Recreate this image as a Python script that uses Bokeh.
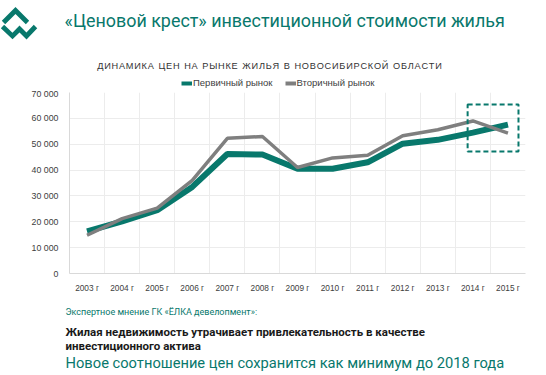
import numpy as np
from bokeh.plotting import figure
from bokeh.layouts import column
from bokeh.models import (BoxAnnotation, Legend, LegendItem, FixedTicker, Range1d,
                          ColumnDataSource)
from bokeh.core.properties import value
from bokeh.embed import file_html
from bokeh.resources import INLINE

# ---------------- data ----------------
years = ["2003 г", "2004 г", "2005 г", "2006 г", "2007 г", "2008 г", "2009 г",
         "2010 г", "2011 г", "2012 г", "2013 г", "2014 г", "2015 г"]
primary = [16300, 20200, 24500, 33500, 46200, 46000, 40500,
           40500, 43000, 50200, 51700, 54500, 57600]
secondary = [14800, 21200, 25300, 36000, 52300, 53000, 41000,
             44700, 45700, 53300, 55600, 59000, 54300]
y_ticks = [0, 10000, 20000, 30000, 40000, 50000, 60000, 70000]
series_names = ["Первичный рынок", "Вторичный рынок"]

title_text = "«Ценовой крест» инвестиционной стоимости жилья"
subtitle_text = "ДИНАМИКА ЦЕН НА РЫНКЕ ЖИЛЬЯ В НОВОСИБИРСКОЙ ОБЛАСТИ"
footer_texts = ["Экспертное мнение ГК «ЁЛКА девелопмент»:",
                "Жилая недвижимость утрачивает привлекательность в качестве",
                "инвестиционного актива",
                "Новое соотношение цен сохранится как минимум до 2018 года"]

TEAL = "#08786c"
GRAY = "#7f7f7f"
PRIM_W, SEC_W = 6, 3.5
W = 546
HEAD_H, MAIN_H, FOOT_H = 88, 212, 75
TICK_FONT = "Liberation Sans"


def blank(h, y0):
    f = figure(width=W, height=h, output_backend="svg", toolbar_location=None,
               x_range=Range1d(0, W), y_range=Range1d(y0 + h, y0),
               min_border=0, min_border_left=0, min_border_right=0,
               min_border_top=0, min_border_bottom=0, frame_align=False)
    f.axis.visible = False
    f.grid.visible = False
    f.outline_line_color = None
    return f


# ---------------- header ----------------
head = blank(HEAD_H, 0)


def thick_poly(pts, hw):
    pts = np.array(pts, float)
    n = len(pts)
    left, right = [], []
    for i in range(n):
        if i == 0 or i == n - 1:
            d = pts[1] - pts[0] if i == 0 else pts[-1] - pts[-2]
            d = d / np.linalg.norm(d)
            m = np.array([-d[1], d[0]]) * hw
        else:
            d1 = pts[i] - pts[i - 1]; d1 = d1 / np.linalg.norm(d1)
            d2 = pts[i + 1] - pts[i]; d2 = d2 / np.linalg.norm(d2)
            n1 = np.array([-d1[1], d1[0]]); n2 = np.array([-d2[1], d2[0]])
            mm = n1 + n2; mm = mm / np.linalg.norm(mm)
            m = mm * hw / np.dot(mm, n1)
        left.append(pts[i] + m); right.append(pts[i] - m)
    poly = left + right[::-1]
    return [q[0] for q in poly], [q[1] for q in poly]


logo_xs, logo_ys = [], []
for pts in ([(3, 22), (15, 10), (27, 22)],
            [(2, 26), (12, 35.5), (19, 28.5), (26, 35.5), (35, 26)]):
    px, py = thick_poly(pts, 2.4)
    logo_xs.append(px); logo_ys.append(py)
head.patches(logo_xs, logo_ys, fill_color=TEAL, line_color=None)

head.text(x=[64], y=[20], text=[title_text], text_font=value("Roboto"),
          text_font_size="17.9px", text_color=TEAL, text_baseline="middle")
spaced = "\u2002".join("\u200a".join(w) for w in subtitle_text.split(" "))
head.text(x=[269], y=[65], text=[spaced], text_font=value("Liberation Sans"),
          text_font_size="9.2px", text_color="#333333", text_baseline="middle",
          text_align="center")

# legend (drawn in the header with off-canvas proxies styled like the series)
proxy = ColumnDataSource(dict(x=[-20, -10], y=[-20, -20]))
lg_prim = head.line("x", "y", source=proxy, line_color=TEAL, line_width=4)
lg_sec = head.line("x", "y", source=proxy, line_color=GRAY, line_width=4)
legend = Legend(items=[LegendItem(label=series_names[0], renderers=[lg_prim]),
                       LegendItem(label=series_names[1], renderers=[lg_sec])],
                orientation="horizontal", location=(181, 0),
                label_text_font=TICK_FONT, label_text_font_size="9.5px",
                label_text_color="#404040", glyph_width=11, glyph_height=8,
                label_standoff=1, spacing=12, padding=0, margin=0,
                border_line_color=None, background_fill_alpha=0, label_height=8)
head.add_layout(legend, "center")

# ---------------- main chart ----------------
FL, FR = 69, 525
p = figure(width=W, height=MAIN_H, output_backend="svg", toolbar_location=None,
           min_border_left=FL, min_border_right=W - FR,
           min_border_top=4, min_border_bottom=27, frame_align=False,
           x_range=Range1d(0, len(years)), y_range=Range1d(0, 70000))
p.outline_line_color = None

xs = np.arange(len(years)) + 0.5
src = ColumnDataSource(dict(x=xs, p=primary, s=secondary))
p.line("x", "p", source=src, line_color=TEAL, line_width=PRIM_W)
p.line("x", "s", source=src, line_color=GRAY, line_width=SEC_W)

p.xaxis.ticker = FixedTicker(ticks=list(xs))
p.xaxis.major_label_overrides = {float(x): y for x, y in zip(xs, years)}
p.yaxis.ticker = FixedTicker(ticks=y_ticks)
p.yaxis.major_label_overrides = {v: (f"{v:,}".replace(",", " ")) for v in y_ticks}
for ax in (p.xaxis[0], p.yaxis[0]):
    ax.major_tick_line_color = None
    ax.minor_tick_line_color = None
    ax.axis_line_color = "#d9d9d9"
    ax.major_label_text_color = "#404040"
    ax.major_label_text_font = TICK_FONT
p.yaxis.major_label_text_font_size = "8.8px"
p.xaxis.major_label_text_font_size = "8.3px"
p.yaxis.major_label_standoff = 5
p.xaxis.major_label_standoff = 3

p.xgrid.ticker = FixedTicker(ticks=list(range(len(years) + 1)))
p.ygrid.ticker = FixedTicker(ticks=y_ticks)
p.xgrid.grid_line_color = "#ececec"
p.ygrid.grid_line_color = "#ececec"

# highlight box around the last two years
box_left, box_right = len(years) - 1.65, len(years) - 0.2
box_bottom, box_top = 47200, 65400
p.add_layout(BoxAnnotation(left=box_left, right=box_right, bottom=box_bottom, top=box_top,
                           fill_alpha=0, line_color=TEAL, line_alpha=1, line_width=2,
                           line_dash="5 3"))

# ---------------- footer ----------------
foot = blank(FOOT_H, 300)
foot.text(x=[65], y=[311], text=[footer_texts[0]], text_font=value("Roboto"),
          text_font_size="9px", text_color=TEAL, text_baseline="middle")
foot.text(x=[65, 65], y=[331, 345], text=footer_texts[1:3], text_font=value("Roboto"),
          text_font_size="11.5px", text_color="#1a1a1a", text_font_style="bold",
          text_baseline="middle")
foot.text(x=[65], y=[362], text=[footer_texts[3]], text_font=value("Roboto"),
          text_font_size="14.7px", text_color=TEAL, text_baseline="middle")

layout = column(head, p, foot, spacing=0)
open("out.html", "w").write(file_html(layout, INLINE))
